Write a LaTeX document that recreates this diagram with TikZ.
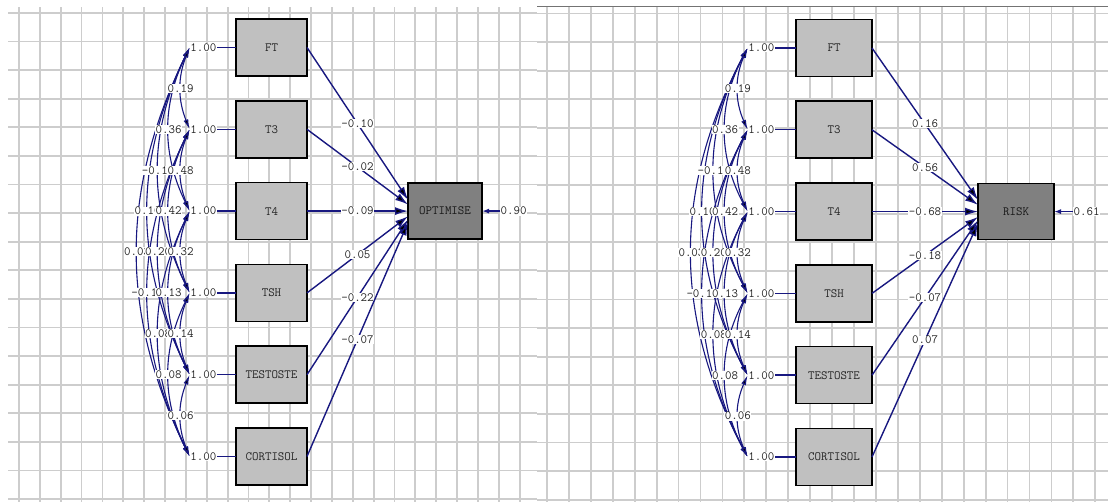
\documentclass[tikz,border=0pt]{standalone}
\usepackage{tikz}
\usetikzlibrary{arrows.meta, positioning}
\usepackage{xcolor}
\definecolor{pathblue}{RGB}{24,24,128}
\definecolor{gridgray}{RGB}{205,205,205}
\definecolor{obsgray}{RGB}{192,192,192}
\definecolor{endogray}{RGB}{128,128,128}

\begin{document}
\begin{tikzpicture}[font=\ttfamily\fontsize{12.6}{14}\selectfont,
    >={Latex[length=10pt,width=5pt]},
    obs/.style={draw=black, line width=1.6pt, fill=obsgray, text=black!85,
                minimum width=71pt, minimum height=57pt, inner sep=0pt, outer sep=0pt},
    endo/.style={obs, fill=endogray, text=black!90, minimum width=74pt, minimum height=56pt},
    coef/.style={fill=white, inner sep=0.5pt, text=black!85},
    pathline/.style={draw=pathblue, line width=1.4pt},
    covline/.style={draw=pathblue, line width=1.1pt},
    gridline/.style={draw=gridgray, line width=1.8pt}]

    % Add the grid
    \fill[white] (0,0) rectangle (1108pt,502pt);
    \useasboundingbox (0,0) rectangle (1108pt,502pt);
    \draw[gridline, shift={(19pt,489pt)}, xstep=20.86pt, ystep=28.6pt]
        (-11pt,-494pt) grid (518pt,6pt);
    \draw[gridline, shift={(547pt,488.5pt)}, xstep=21.93pt, ystep=28.6pt]
        (-10pt,-494pt) grid (561pt,6.5pt);
    \draw[black!55, line width=1pt] (537pt,495pt) -- (1108pt,495pt);

    % Add the boxes (left)
        \node[obs] (lFT) at (271.5pt,454.5pt) {FT};
        \node[obs, below=24.8pt of lFT] (lT3) {T3};
        \node[obs, below=24.8pt of lT3] (lT4) {T4};
        \node[obs, below=24.8pt of lT4] (lTSH) {TSH};
        \node[obs, below=24.8pt of lTSH] (lTES) {TESTOSTE};
        \node[obs, below=24.8pt of lTES] (lCOR) {CORTISOL};
        \node[endo, right=101pt of lT4] (OPT) {OPTIMISE};
        \node[coef, right=18pt of OPT] (e1) {0.90};

        \node[coef, left=19pt of lFT] (lv1) {1.00};
        \node[coef, left=19pt of lT3] (lv2) {1.00};
        \node[coef, left=19pt of lT4] (lv3) {1.00};
        \node[coef, left=19pt of lTSH] (lv4) {1.00};
        \node[coef, left=19pt of lTES] (lv5) {1.00};
        \node[coef, left=19pt of lCOR] (lv6) {1.00};

    % Add the boxes (right)
        \node[obs, minimum width=76pt] (rFT) at (834pt,454pt) {FT};
        \node[obs, minimum width=76pt, below=24.8pt of rFT] (rT3) {T3};
        \node[obs, minimum width=76pt, below=24.8pt of rT3] (rT4) {T4};
        \node[obs, minimum width=76pt, below=24.8pt of rT4] (rTSH) {TSH};
        \node[obs, minimum width=76pt, below=24.8pt of rTSH] (rTES) {TESTOSTE};
        \node[obs, minimum width=76pt, below=24.8pt of rTES] (rCOR) {CORTISOL};
        \node[endo, minimum width=76pt, right=106pt of rT4] (RISK) {RISK};
        \node[coef, right=19pt of RISK] (e2) {0.61};

        \node[coef, left=21pt of rFT] (rv1) {1.00};
        \node[coef, left=21pt of rT3] (rv2) {1.00};
        \node[coef, left=21pt of rT4] (rv3) {1.00};
        \node[coef, left=21pt of rTSH] (rv4) {1.00};
        \node[coef, left=21pt of rTES] (rv5) {1.00};
        \node[coef, left=21pt of rCOR] (rv6) {1.00};

    % Variances
 \draw[pathline]
        (lv1.east) edge (lFT.west)
        (lv2.east) edge (lT3.west)
        (lv3.east) edge (lT4.west)
        (lv4.east) edge (lTSH.west)
        (lv5.east) edge (lTES.west)
        (lv6.east) edge (lCOR.west)
        (rv1.east) edge (rFT.west)
        (rv2.east) edge (rT3.west)
        (rv3.east) edge (rT4.west)
        (rv4.east) edge (rTSH.west)
        (rv5.east) edge (rTES.west)
        (rv6.east) edge (rCOR.west);

    % Covariances
 \draw[covline, every edge/.append style={<->, bend right=26}]
        (lv1.west) edge node[coef] {0.03} (lv6.west)
        (lv1.west) edge node[coef] {0.10} (lv5.west)
        (lv2.west) edge node[coef] {-0.14} (lv6.west)
        (lv1.west) edge node[coef] {-0.10} (lv4.west)
        (lv2.west) edge node[coef] {0.20} (lv5.west)
        (lv3.west) edge node[coef] {0.08} (lv6.west)
        (lv1.west) edge node[coef] {0.36} (lv3.west)
        (lv2.west) edge node[coef] {0.42} (lv4.west)
        (lv3.west) edge node[coef] {0.13} (lv5.west)
        (lv4.west) edge node[coef] {0.08} (lv6.west)
        (lv1.west) edge[bend right=22] node[coef] {0.19} (lv2.west)
        (lv2.west) edge[bend right=22] node[coef] {0.48} (lv3.west)
        (lv3.west) edge[bend right=22] node[coef] {0.32} (lv4.west)
        (lv4.west) edge[bend right=22] node[coef] {0.14} (lv5.west)
        (lv5.west) edge[bend right=22] node[coef] {0.06} (lv6.west);

 \draw[covline, every edge/.append style={<->, bend right=28}]
        (rv1.west) edge node[coef] {0.03} (rv6.west)
        (rv1.west) edge node[coef] {0.10} (rv5.west)
        (rv2.west) edge node[coef] {-0.14} (rv6.west)
        (rv1.west) edge node[coef] {-0.10} (rv4.west)
        (rv2.west) edge node[coef] {0.20} (rv5.west)
        (rv3.west) edge node[coef] {0.08} (rv6.west)
        (rv1.west) edge node[coef] {0.36} (rv3.west)
        (rv2.west) edge node[coef] {0.42} (rv4.west)
        (rv3.west) edge node[coef] {0.13} (rv5.west)
        (rv4.west) edge node[coef] {0.08} (rv6.west)
        (rv1.west) edge[bend right=24] node[coef] {0.19} (rv2.west)
        (rv2.west) edge[bend right=24] node[coef] {0.48} (rv3.west)
        (rv3.west) edge[bend right=24] node[coef] {0.32} (rv4.west)
        (rv4.west) edge[bend right=24] node[coef] {0.14} (rv5.west)
        (rv5.west) edge[bend right=24] node[coef] {0.06} (rv6.west);

    % Paths
 \draw[pathline, every edge/.append style={-{Latex[length=13pt,width=8pt]}}]
        (lFT.east) edge node[coef] {-0.10} (OPT.163)
        (lT3.east) edge node[coef] {-0.02} (OPT.170)
        (lT4.east) edge node[coef] {-0.09} (OPT.west)
        (lTSH.east) edge node[coef] {0.05} (OPT.188)
        (lTES.east) edge node[coef] {-0.22} (OPT.193)
        (lCOR.east) edge node[coef] {-0.07} (OPT.197)
        (rFT.east) edge node[coef] {0.16} (RISK.163)
        (rT3.east) edge node[coef] {0.56} (RISK.170)
        (rT4.east) edge node[coef] {-0.68} (RISK.west)
        (rTSH.east) edge node[coef] {-0.18} (RISK.188)
        (rTES.east) edge node[coef] {-0.07} (RISK.193)
        (rCOR.east) edge node[coef] {0.07} (RISK.197);

    % Residuals
 \draw[pathline, every edge/.append style={-{Latex[length=7pt,width=5pt]}}]
        (e1.west) edge (OPT.east)
        (e2.west) edge (RISK.east);

\end{tikzpicture}
\end{document}
